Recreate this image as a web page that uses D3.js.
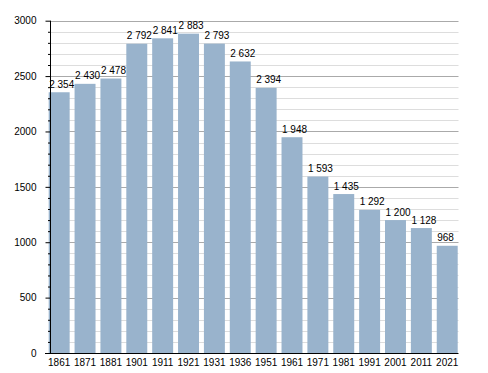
<!DOCTYPE html>
<html><head><meta charset="utf-8">
<script src="https://cdn.jsdelivr.net/npm/d3@7"></script>
<style>
html,body{margin:0;padding:0;background:#fff;}
svg text{font-family:"Liberation Sans",Arial,sans-serif;font-size:10px;fill:#000;}
</style></head>
<body><svg id="c" width="488" height="373"></svg>
<script>
const years = ["1861","1871","1881","1901","1911","1921","1931","1936","1951","1961","1971","1981","1991","2001","2011","2021"];
const population = [2354,2430,2478,2792,2841,2883,2793,2632,2394,1948,1593,1435,1292,1200,1128,968];
const majorTicks = [0,500,1000,1500,2000,2500,3000];
const minorTicks = d3.range(0,3001,100);

const svg = d3.select("#c");
const x = d3.scaleBand().domain(years).range([48.7,457.7]).paddingInner(0.19).paddingOuter(0);
const y = d3.scaleLinear().domain([0,3000]).range([353,20.7]);
const fmt = d3.formatLocale({decimal:".",thousands:" ",grouping:[3],currency:["",""]}).format(",d");
const left = 50, right = 458.5;

// minor gridlines
svg.append("g").selectAll("line").data(minorTicks.filter(v=>v%500!==0)).join("line")
  .attr("x1",left).attr("x2",right).attr("y1",d=>Math.round(y(d))+0.5).attr("y2",d=>Math.round(y(d))+0.5)
  .attr("stroke","#dddddd").attr("stroke-width",1);
// major gridlines
svg.append("g").selectAll("line").data(majorTicks.filter(v=>v>0)).join("line")
  .attr("x1",left).attr("x2",right).attr("y1",d=>Math.round(y(d))+0.5).attr("y2",d=>Math.round(y(d))+0.5)
  .attr("stroke","#aaaaaa").attr("stroke-width",1);

// bars
svg.append("g").selectAll("rect").data(years).join("rect")
  .attr("x",d=>x(d)).attr("width",x.bandwidth())
  .attr("y",(d,i)=>y(population[i])).attr("height",(d,i)=>y(0)-y(population[i]))
  .attr("fill","#99b3cc");

// value labels
svg.append("g").selectAll("text").data(years).join("text")
  .attr("x",d=>x(d)+0.5).attr("y",(d,i)=>y(population[i])-4.5)
  .text((d,i)=>fmt(population[i]));

// y axis
const yAxis = d3.axisLeft(y).tickValues(majorTicks).tickSize(5).tickPadding(9).tickFormat(d3.format("d"));
const gy = svg.append("g").attr("transform",`translate(${left+0.5},0)`).call(yAxis);
gy.select(".domain").remove();
gy.selectAll("line").attr("stroke","#000");
gy.selectAll("text").attr("font-size",null).attr("font-family",null).attr("fill",null);
const yMinor = d3.axisLeft(y).tickValues(minorTicks.filter(v=>v%500!==0)).tickSize(2.5).tickFormat("");
const gym = svg.append("g").attr("transform",`translate(${left+0.5},0)`).call(yMinor);
gym.select(".domain").remove();
gym.selectAll("line").attr("stroke","#000");
svg.append("line").attr("x1",left+0.5).attr("x2",left+0.5).attr("y1",y(3000)).attr("y2",y(0)+0.5)
  .attr("stroke","#000");

// x axis
const xAxis = d3.axisBottom(x).tickSize(0).tickPadding(5);
const gx = svg.append("g").attr("transform",`translate(0,${Math.round(y(0))+0.5})`).call(xAxis);
gx.select(".domain").remove();
gx.selectAll("text").attr("font-size",null).attr("font-family",null).attr("fill",null);
svg.append("line").attr("x1",45).attr("x2",right).attr("y1",Math.round(y(0))+0.5).attr("y2",Math.round(y(0))+0.5)
  .attr("stroke","#000");
</script></body></html>
